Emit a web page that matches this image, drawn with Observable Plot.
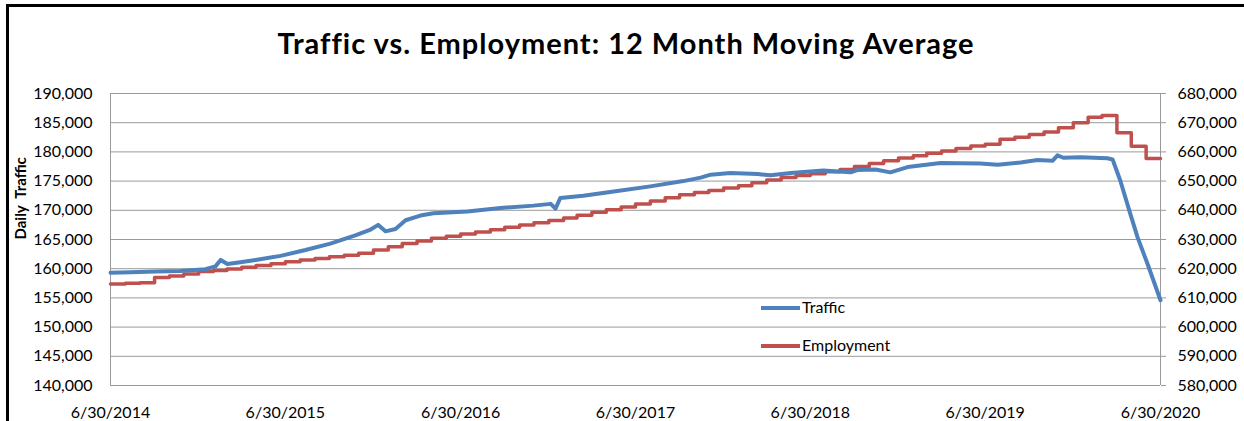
<!DOCTYPE html>
<html>
<head>
<meta charset="utf-8">
<script src="https://cdn.jsdelivr.net/npm/d3@7"></script>
<script src="https://cdn.jsdelivr.net/npm/@observablehq/plot@0.6"></script>
<style>
  body { margin: 0; background: #fff; }
  #wrap { position: relative; width: 1244px; height: 421px; overflow: hidden; font-family: Lato, sans-serif; }
  #frame { position: absolute; left: 6px; top: 4px; right: -10px; bottom: -10px; border-top: 3px solid #000; border-left: 3px solid #000; }
  #title { position: absolute; top: 28px; left: 8px; right: 0; text-align: center; font: bold 29px/29px Lato, sans-serif; letter-spacing: 1px; color: #000; white-space: nowrap; }
  #chart { position: absolute; left: 0; top: 75px; }
  .leg { position: absolute; left: 761px; height: 20px; font: 16px/20px Lato, sans-serif; color: #000; white-space: nowrap; }
  .leg span.sw { display: inline-block; width: 39px; height: 3.5px; vertical-align: middle; margin-right: 2px; position: relative; top: -1px; }
</style>
</head>
<body>
<div id="wrap">
  <div id="frame"></div>
  <div id="title">Traffic vs. Employment: 12 Month Moving Average</div>
  <div id="chart"></div>
  <div class="leg" style="top:297px"><span class="sw" style="background:#4F81BD"></span>Traffic</div>
  <div class="leg" style="top:335px"><span class="sw" style="background:#C0504D"></span>Employment</div>
</div>
<script>
// Traffic: daily 12-month moving average (left axis)
const trafficDates = [
  "2014-06-30","2014-08-11","2014-10-02","2014-11-23","2015-01-14","2015-02-04","2015-02-15","2015-03-01",
  "2015-03-28","2015-04-29","2015-06-20","2015-08-11","2015-10-02","2015-11-23","2015-12-25","2016-01-10",
  "2016-01-25","2016-02-15","2016-03-07","2016-04-07","2016-05-04","2016-07-14","2016-09-21","2016-11-29",
  "2017-01-04","2017-01-14","2017-01-24","2017-03-13","2017-05-23","2017-07-31","2017-10-08","2017-11-13",
  "2017-12-04","2018-01-14","2018-03-12","2018-04-08","2018-05-20","2018-07-27","2018-09-22","2018-10-06",
  "2018-11-13","2018-12-14","2019-01-19","2019-03-29","2019-06-20","2019-07-26","2019-09-12","2019-10-17",
  "2019-11-18","2019-11-28","2019-12-10","2020-01-15","2020-03-11","2020-03-22","2020-04-07","2020-04-28",
  "2020-05-13","2020-06-03","2020-06-30"
];
const trafficValues = [
  159300,159400,159500,159600,159900,160400,161500,160800,
  161100,161500,162200,163200,164300,165700,166700,167500,
  166400,166800,168300,169100,169500,169800,170400,170800,
  171100,170300,172100,172500,173300,174100,175000,175600,
  176100,176400,176200,176000,176400,176800,176500,176900,
  177000,176500,177400,178100,178000,177800,178200,178600,
  178500,179400,179000,179100,178900,178700,175100,169400,
  165400,160800,154600
];

// Employment: monthly 12-month moving average (right axis), Jul 2014 .. Jun 2020
const empStartMonth = "2014-07-01";
const empValues = [
  614800,615000,615200,617000,617500,618200,619000,619400,619900,620500,621100,621700,
  622400,623000,623500,624100,624600,625300,626400,627500,628600,629500,630400,631100,
  631900,632600,633300,634200,635000,635700,636500,637400,638300,639300,640200,641100,
  642200,643200,644300,645300,646100,646800,647600,648400,649400,650400,651200,651900,
  652500,653200,654000,655000,656000,657000,657900,658700,659500,660300,661200,662000,
  662600,664300,665000,666000,666800,668300,670000,671900,672500,666600,661900,657700
];

const xTickLabels = ["2014-06-30","2015-06-30","2016-06-30","2017-06-30","2018-06-30","2019-06-30","2020-06-30"];
const leftTicks = d3.range(140000, 190001, 5000);
const leftDomain = [140000, 190000];
const rightDomain = [580000, 680000];

const parse = d3.utcParse("%Y-%m-%d");
const traffic = trafficDates.map((d, i) => ({date: parse(d), value: trafficValues[i]}));

// map right-axis values into left-axis units
const toLeft = v => leftDomain[0] + (v - rightDomain[0]) * (leftDomain[1] - leftDomain[0]) / (rightDomain[1] - rightDomain[0]);
const toRight = v => rightDomain[0] + (v - leftDomain[0]) * (rightDomain[1] - rightDomain[0]) / (leftDomain[1] - leftDomain[0]);

const m0 = parse(empStartMonth);
const employment = empValues.map((v, i) => ({date: d3.utcDay.offset(d3.utcMonth.offset(m0, i), -1), value: toLeft(v)}));
employment.push({date: d3.utcDay.offset(d3.utcMonth.offset(m0, empValues.length), -1), value: toLeft(empValues[empValues.length - 1])});

const xTicks = xTickLabels.map(parse);
const xDomain = [xTicks[0], xTicks[xTicks.length - 1]];
const fmt = d3.format(",");
const gray = "#9a9a9a";

const chart = Plot.plot({
  width: 1244,
  height: 346,
  marginTop: 18,
  marginBottom: 36,
  marginLeft: 110,
  marginRight: 84,
  style: {fontFamily: "Lato, sans-serif", fontSize: "16px", color: "#000", background: "transparent", overflow: "visible"},
  x: {type: "utc", domain: xDomain},
  y: {domain: leftDomain},
  marks: [
    Plot.gridY(leftTicks, {stroke: gray, strokeOpacity: 1, strokeWidth: 1}),
    Plot.ruleX(xDomain, {stroke: gray, strokeWidth: 1}),
    Plot.axisY(leftTicks, {anchor: "left", tickSize: 0, tickPadding: 18, tickFormat: fmt, label: null, fontSize: 16}),
    Plot.axisY(leftTicks, {anchor: "right", tickSize: 5, tickPadding: 12, tickFormat: d => fmt(toRight(d)), label: null, stroke: gray, fontSize: 16}),
    Plot.axisX(xTicks, {anchor: "bottom", tickSize: 0, tickPadding: 21, tickFormat: d3.utcFormat("%-m/%-d/%Y"), label: null, fontSize: 16}),
    Plot.text(["Daily  Traffic"], {frameAnchor: "left", rotate: -90, dx: -89, fontWeight: "bold", fontSize: 15, fill: "#000"}),
    Plot.line(employment, {x: "date", y: "value", curve: "step-after", stroke: "#C0504D", strokeWidth: 3.5}),
    Plot.line(traffic, {x: "date", y: "value", stroke: "#4F81BD", strokeWidth: 4, strokeLinejoin: "round"})
  ]
});
document.getElementById("chart").appendChild(chart);
</script>
</body>
</html>
